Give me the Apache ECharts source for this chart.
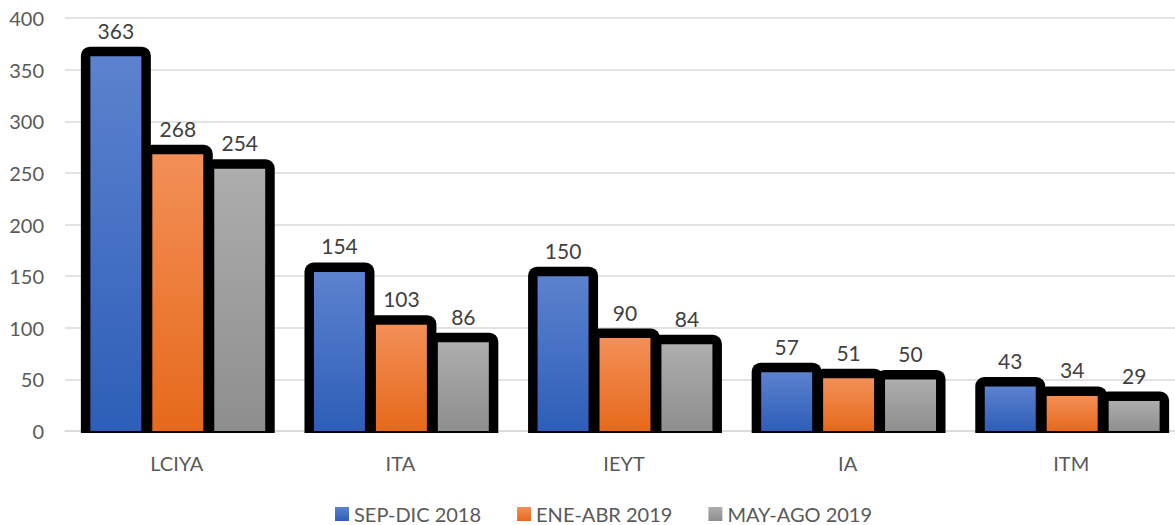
<!DOCTYPE html>
<html>
<head>
<meta charset="utf-8">
<script src="https://cdn.jsdelivr.net/npm/echarts@6/dist/echarts.min.js"></script>
<style>
html,body{margin:0;padding:0;background:#fff;}
#chart{width:1175px;height:525px;}
</style>
</head>
<body>
<div id="chart"></div>
<script>
const categories = ['LCIYA', 'ITA', 'IEYT', 'IA', 'ITM'];
const seriesNames = ['SEP-DIC 2018', 'ENE-ABR 2019', 'MAY-AGO 2019'];
const sepDic2018 = [363, 154, 150, 57, 43];
const eneAbr2019 = [268, 103, 90, 51, 34];
const mayAgo2019 = [254, 86, 84, 50, 29];
const yTicks = [0, 50, 100, 150, 200, 250, 300, 350, 400];

const seriesValues = [sepDic2018, eneAbr2019, mayAgo2019];
const gradients = [
  ['#5c82cf', '#2e5eb8'],
  ['#f38f57', '#e6691b'],
  ['#adadad', '#8e8e8e']
];
const FONT = 'Lato, "Liberation Sans", sans-serif';

function grad(c) {
  return new echarts.graphic.LinearGradient(0, 0, 0, 1, [
    { offset: 0, color: c[0] }, { offset: 1, color: c[1] }
  ]);
}

function makeRender(si) {
  return function (params, api) {
    const top = api.coord([api.value(0), api.value(1)]);
    const base = api.coord([api.value(0), 0]);
    const band = api.size([1, 0])[0];
    const step = band * 0.277;
    const fillW = band * 0.228;
    const cx = top[0] + (si - 1) * step + 1;
    const left = cx - fillW / 2;
    const pad = 9.5;
    const h = base[1] - top[1];
    return {
      type: 'group',
      children: [
        {
          type: 'rect',
          shape: { x: left - pad, y: top[1] - pad, width: fillW + 2 * pad, height: h + pad + 2, r: [9, 9, 0, 0] },
          style: { fill: '#000' }
        },
        {
          type: 'rect',
          shape: { x: left, y: top[1], width: fillW, height: h },
          style: { fill: grad(gradients[si]) }
        },
        {
          type: 'text',
          x: cx, y: top[1] - pad - 6,
          style: {
            text: String(api.value(1)),
            fill: '#404040',
            font: '21px ' + FONT,
            align: 'center',
            verticalAlign: 'bottom'
          }
        }
      ]
    };
  };
}

const chart = echarts.init(document.getElementById('chart'), null, { renderer: 'svg' });
chart.setOption({
  animation: false,
  grid: { left: 65, width: 1118, top: 18, bottom: 94, containLabel: false, outerBoundsMode: 'none' },
  legend: {
    top: 504,
    left: 335,
    padding: 0,
    itemWidth: 14,
    itemHeight: 14,
    itemGap: 36,
    icon: 'rect',
    textStyle: { color: '#595959', fontSize: 20, fontFamily: FONT },
    data: seriesNames
  },
  xAxis: {
    type: 'category',
    data: categories,
    axisLine: { lineStyle: { color: '#d9d9d9', width: 1.5 } },
    axisTick: { show: false },
    axisLabel: { color: '#595959', fontSize: 20, fontFamily: FONT, margin: 22 }
  },
  yAxis: {
    type: 'value',
    min: yTicks[0],
    max: yTicks[yTicks.length - 1],
    interval: 50,
    axisLine: { show: false },
    axisTick: { show: false },
    axisLabel: { color: '#595959', fontSize: 20, fontFamily: FONT, margin: 21 },
    splitLine: { lineStyle: { color: '#d9d9d9', width: 1.5 } }
  },
  series: seriesValues.map((vals, si) => ({
    name: seriesNames[si],
    type: 'custom',
    renderItem: makeRender(si),
    itemStyle: { color: grad(gradients[si]) },
    encode: { x: 0, y: 1 },
    data: vals.map((v, i) => [i, v]),
    z: 2 + si
  }))
});
</script>
</body>
</html>
